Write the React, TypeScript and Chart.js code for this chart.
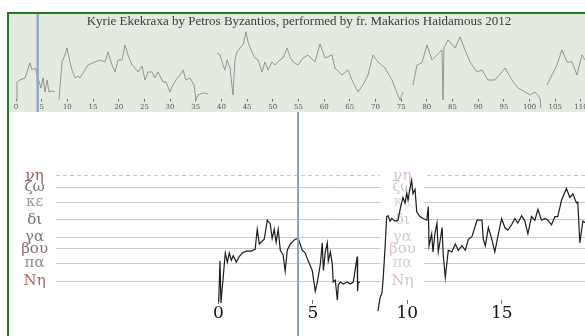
import React, { useEffect, useRef } from 'react';
import { Chart, registerables } from 'chart.js';

Chart.register(...registerables);

const TITLE = 'Kyrie Ekekraxa by Petros Byzantios, performed by fr. Makarios Haidamous 2012';

// current playback time (seconds)
const currentTime = 4.22;

// note names and their pitch in moria above Νη
const noteNames = ['Νη', 'πα', 'βου', 'γα', 'δι', 'κε', 'ζω', 'νη'];
const noteMoria = [0, 12, 22, 30, 42, 54, 64, 72];
const noteColors = ['#a86464', '#8e8e8e', '#8a6e76', '#7e7e7e', '#6e6e6e', '#9c9c9c', '#767676', '#a65a58'];
const noteFadedColors = ['#e2bcbc', '#d4d4d4', '#d8c4ca', '#cfcfcf', '#c8c8c8', '#dadada', '#cacaca', '#e4bcbc'];

// second, faded note-label column (seconds on the detail axis)
const labelSetTime = 9.74;
const labelGapStart = 8.58;
const labelGapEnd = 10.88;

const overviewTicks = [0, 5, 10, 15, 20, 25, 30, 35, 40, 45, 50, 55, 60, 65, 70, 75, 80, 85, 90, 95, 100, 105, 110];
const detailTicks = [0, 5, 10, 15, 20];

// whole-performance overview (seconds, moria)
const overviewTimes = [
  0, 0.19, 0.78, 1.75, 2.14, 2.73, 3.12, 3.7, 4.28, 4.87, 5.26, 5.65, 6.04, 6.43, 7.0, 7.6, 8.0,
  8.37, 8.96, 9.54, 9.93, 10.51, 10.9, 11.49, 12.07, 12.46, 13.43, 14.02, 15.38, 16.36, 17.33, 17.91,
  18.69, 19.28, 19.86, 20.64, 21.22, 21.81, 22.59, 23.17, 23.75, 24.53, 25.12, 25.7, 26.48, 27.06,
  27.65, 28.62, 29.21, 29.98, 30.57, 31.15, 31.93, 32.52, 33.1, 33.88, 34.66, 35.05, 35.44, 36.41,
  37.38, 38.2, 39.14, 39.72, 40.3, 40.69, 41.08, 41.67, 42.25, 42.64, 43.03, 43.61, 44.2, 44.78,
  45.17, 45.95, 46.53, 47.12, 47.9, 48.48, 49.07, 49.84, 50.43, 51.4, 51.99, 52.77, 53.35, 53.93,
  54.91, 55.88, 56.85, 58.22, 59.19, 60.16, 61.53, 62.11, 63.47, 64.64, 65.42, 66.59, 67.56, 68.54,
  69.51, 70.48, 71.85, 73.21, 73.79, 74.77, 75.35, 76.3, 77.3, 78.08, 79.05, 80.02, 81.0, 81.97,
  82.94, 83.14, 83.33, 84.11, 85.48, 86.45, 87.42, 88.4, 89.76, 90.73, 91.9, 93.26, 94.63, 95.21,
  96.57, 97.74, 99.1, 100.08, 101.05, 102.02, 102.22, 102.8, 103.39, 104.36, 105.33, 106.31, 107.28,
  108.26, 109.23, 110.2, 110.79,
];
const overviewPitch = [
  -10.6, 15.1, 18, 20.9, 29.4, 42.3, 32.3, 35.1, 20.9, 6.6, 20.9, 0.9, 18, 0.9, 2.3, 0.9, null,
  -10.6, 43.7, 53.7, 63.7, 43.7, 32.3, 20.9, 23.7, 20.9, 32.3, 39.4, 43.7, 46.6, 43.7, 58,
  39.4, 29.4, 46.6, 46.6, 68, 53.7, 39.4, 35.1, 29.4, 38, 18, 29.4, 29.4, 20.9,
  29.4, 15.1, 15.1, 0.9, 10.9, 18, 25.1, 32.3, 18, 20.9, 10.9, -10.6, -3.4, -0.6,
  -2, null, 56.6, 53.7, 39.4, 32.3, 46.6, 35.1, -3.4, 46.6, 58, 63.7, 68, 86.6,
  72.3, 58, 49.4, 46.6, 29.4, 43.7, 32.3, 43.7, 39.4, 46.6, 49.4, 63.7, 50.9, 43.7,
  39.4, 49.4, 53.7, 43.7, 69.4, 49.4, 53.7, 35.1, 25.1, 32.3, 18, 0.9, 10.9, 25.1,
  53.7, 43.7, 35.1, 18, 6.6, -10.6, 0.9, null, 10.9, 39.4, 42.3, 68, 46.6, 53.7,
  60.9, -10.6, 63.7, 75.1, 63.7, 79.4, 60.9, 43.7, 29.4, 32.3, 18, 18, 29.4, 35.1,
  18, 6.6, 0.9, -3.4, 0.9, -7.7, -22, null, 10.9, 25.1, 39.4, 60.9, 43.7,
  43.7, 25.1, 53.7, 46.6,
];

// zoomed pitch trace around the current time (seconds, moria)
const detailTimes = [
  0.02, 0.09, 0.14, 0.37, 0.48, 0.58, 0.69, 0.79, 0.95, 1.11, 1.27, 1.48, 1.74, 1.95, 2.06, 2.17,
  2.27, 2.43, 2.59, 2.75, 2.85, 2.96, 3.06, 3.17, 3.28, 3.43, 3.54, 3.65, 3.81, 3.96, 4.07, 4.23,
  4.44, 4.6, 4.76, 4.97, 5.13, 5.24, 5.4, 5.5, 5.56, 5.66, 5.77, 5.82, 5.93, 6.03, 6.08, 6.19,
  6.3, 6.35, 6.46, 6.61, 6.82, 6.98, 7.14, 7.35, 7.37, 7.4, 7.5, 7.9,
  8.45, 8.56, 8.66, 8.72, 8.82, 8.91, 8.98, 9.09, 9.18, 9.35, 9.51, 9.62, 9.71, 9.77, 9.88, 9.97,
  10.04, 10.14, 10.23, 10.3, 10.41, 10.5, 10.67, 10.83, 11.03, 11.11, 11.15, 11.29, 11.36, 11.46,
  11.57, 11.64, 11.75, 11.84, 11.9, 12.01, 12.17, 12.36, 12.54, 12.7, 12.89, 13.07, 13.23, 13.42,
  13.69, 13.95, 14.02, 14.13, 14.29, 14.46, 14.63, 14.79, 14.99, 15.16, 15.32, 15.52, 15.69, 15.85,
  16.05, 16.22, 16.38, 16.57, 16.75, 16.91, 17.1, 17.28, 17.44, 17.63, 17.81, 17.96, 18.16, 18.42,
  18.6, 18.76, 18.95, 19.02, 19.13, 19.29, 19.44,
];
const detailPitch = [
  -14.3, 13.7, -14.9, 19.2, 13.0, 19.2, 14.3, 17.4, 13.0, 16.8, 19.2, 20.5, 20.5, 21.7, 35.4, 25.4,
  26.7, 28.6, 41.6, 39.1, 29.2, 35.4, 26.7, 35.4, 21.1, 18.0, 6.8, 21.1, 25.4, 27.3, 28.6, 29.2,
  21.1, 19.2, 13.7, 7.4, -6.8, -0.6, 11.8, 26.1, 7.4, 19.9, 26.1, 13.7, 19.9, 11.8, -0.6, 0.6,
  -13.0, -2.5, -0.6, -1.9, -0.6, -1.9, -0.6, 16.8, -6.8, -0.6, -0.6, null,
  -20.5, -11.2, -8.1, 1.2, 22.3, 44.1, 44.7, 41.0, 42.8, 41.0, 41.6, 49.0, 54.0, 57.1, 53.4, 60.2,
  55.2, 63.3, 68.9, 59.6, 62.7, 47.2, 44.1, 42.8, 41.6, 50.9, 24.2, 32.3, 19.9, 32.3,
  39.7, 19.9, 28.6, 36.6, 18.0, 2.5, 21.1, 19.9, 25.4, 21.1, 24.2, 21.1, 28.6, 30.4,
  41.6, 41.6, 28.6, 24.2, 36.6, 29.2, 19.9, 30.4, 42.8, 36.6, 34.8, 38.5, 42.8, 39.7,
  44.7, 41.0, 32.3, 44.1, 41.6, 49.0, 41.6, 42.8, 41.6, 38.5, 44.1, 44.1, 55.2, 63.3,
  57.1, 59.6, 53.4, 54.0, 26.1, 41.0, 39.7,
];

const serif = '"Liberation Serif", "Times New Roman", serif';
const dejavuSerif = '"DejaVu Serif", serif';

function makePlayhead(id: string, color: string, width: number) {
  return {
    id,
    afterDatasetsDraw(chart: any) {
      const { ctx, scales } = chart;
      const px = scales.x.getPixelForValue(currentTime);
      ctx.save();
      ctx.strokeStyle = color;
      ctx.lineWidth = width;
      ctx.beginPath();
      ctx.moveTo(px, 0);
      ctx.lineTo(px, chart.height);
      ctx.stroke();
      ctx.restore();
    },
  };
}

const fadedNotesPlugin = {
  id: 'fadedNotes',
  beforeDatasetsDraw(chart: any) {
    const { ctx, scales } = chart;
    const x = scales.x;
    const y = scales.y;
    const left = x.getPixelForValue(labelGapStart);
    const right = x.getPixelForValue(labelGapEnd);
    const cx = x.getPixelForValue(labelSetTime);
    ctx.save();
    ctx.font = '15px ' + dejavuSerif;
    ctx.textAlign = 'center';
    ctx.textBaseline = 'middle';
    noteMoria.forEach((m, i) => {
      const py = y.getPixelForValue(m);
      ctx.fillStyle = '#ffffff';
      ctx.fillRect(left, py - 2, right - left, 4);
      ctx.fillStyle = noteFadedColors[i];
      ctx.fillText(noteNames[i], cx, py);
    });
    ctx.restore();
  },
};

export default function App() {
  const topRef = useRef<HTMLCanvasElement | null>(null);
  const botRef = useRef<HTMLCanvasElement | null>(null);

  useEffect(() => {
    const top = new Chart(topRef.current as HTMLCanvasElement, {
      type: 'line',
      data: {
        datasets: [
          {
            data: overviewTimes.map((t, i) => ({ x: t, y: overviewPitch[i] })) as any,
            borderColor: '#8a8a8a',
            borderWidth: 0.9,
            pointRadius: 0,
            tension: 0,
            spanGaps: false,
            clip: false as any,
          },
        ],
      },
      options: {
        responsive: false,
        animation: false,
        devicePixelRatio: 1,
        layout: { padding: 0 },
        plugins: {
          legend: { display: false },
          tooltip: { enabled: false },
          title: {
            display: true,
            text: TITLE,
            color: '#3a3a3a',
            font: { family: serif, size: 13, weight: 'normal', lineHeight: 1.1 },
            padding: { top: 0, bottom: 2 },
          },
        },
        scales: {
          x: {
            type: 'linear',
            min: -1.363,
            max: 111.57,
            afterBuildTicks: (s: any) => {
              s.ticks = overviewTicks.map((v) => ({ value: v }));
            },
            afterFit: (s: any) => {
              s.height = 13.5;
            },
            grid: { drawOnChartArea: false, drawTicks: true, tickLength: 3, tickColor: '#6a6a6a' },
            border: { display: false },
            ticks: {
              autoSkip: false,
              maxRotation: 0,
              padding: 1,
              color: '#555',
              font: { family: dejavuSerif, size: 7 },
            },
          },
          y: { type: 'linear', display: false, min: -8.43, max: 88.86 },
        },
      },
      plugins: [makePlayhead('topPlayhead', '#91a8c8', 2.5)],
    });

    const nameFor = (v: number) => {
      const i = noteMoria.indexOf(v);
      return i >= 0 ? noteNames[i] : '';
    };

    const bot = new Chart(botRef.current as HTMLCanvasElement, {
      type: 'line',
      data: {
        datasets: [
          {
            data: detailTimes.map((t, i) => ({ x: t, y: detailPitch[i] })) as any,
            borderColor: '#1c1c1c',
            borderWidth: 1.2,
            pointRadius: 0,
            tension: 0,
            spanGaps: false,
            clip: false as any,
          },
        ],
      },
      options: {
        responsive: false,
        animation: false,
        devicePixelRatio: 1,
        layout: { padding: 0 },
        plugins: { legend: { display: false }, tooltip: { enabled: false } },
        scales: {
          x: {
            type: 'linear',
            min: -8.587,
            max: 20.672,
            afterBuildTicks: (s: any) => {
              s.ticks = detailTicks.map((v) => ({ value: v }));
            },
            afterFit: (s: any) => {
              s.height = 36;
            },
            grid: { drawOnChartArea: false, drawTicks: true, tickLength: 4, tickColor: '#707070' },
            border: { display: false },
            ticks: {
              autoSkip: false,
              maxRotation: 0,
              padding: 0,
              color: '#111',
              font: { family: dejavuSerif, size: 17, lineHeight: 1.1 },
            },
          },
          y: {
            type: 'linear',
            min: -12.85,
            max: 103.85,
            afterBuildTicks: (s: any) => {
              s.ticks = noteMoria.map((v) => ({ value: v }));
            },
            afterFit: (s: any) => {
              s.width = 47;
            },
            grid: {
              drawTicks: false,
              lineWidth: 1,
              color: (c: any) => (c.tick && c.tick.value === 0 ? '#dcc3c3' : '#cbcbcb'),
            },
            border: {
              display: false,
              dash: (c: any) => (c.tick && c.tick.value === 72 ? [4, 3] : []),
            },
            ticks: {
              autoSkip: false,
              padding: 8,
              crossAlign: 'center',
              color: (c: any) => {
                const i = c.tick ? noteMoria.indexOf(c.tick.value) : -1;
                return i >= 0 ? noteColors[i] : '#777';
              },
              font: { family: dejavuSerif, size: 15 },
              callback: (v: any) => nameFor(Number(v)),
            },
          },
        },
      },
      plugins: [fadedNotesPlugin, makePlayhead('botPlayhead', '#8c9fb8', 2)],
    });

    return () => {
      top.destroy();
      bot.destroy();
    };
  }, []);

  return (
    <div
      style={{
        position: 'fixed',
        left: 0,
        top: 0,
        width: 585,
        height: 336,
        overflow: 'hidden',
        background: '#ffffff',
      }}
    >
      <div
        style={{
          position: 'absolute',
          left: 7,
          top: 12,
          width: 620,
          height: 400,
          borderLeft: '2px solid #1f7d1f',
          borderTop: '2px solid #1f7d1f',
        }}
      />
      <div
        style={{
          position: 'absolute',
          left: 9,
          top: 14,
          width: 580,
          height: 98,
          background: '#e3ebe1',
        }}
      >
        <canvas ref={topRef} width={580} height={98} style={{ display: 'block', width: 580, height: 98 }} />
      </div>
      <div style={{ position: 'absolute', left: 9, top: 112, width: 600, height: 224 }}>
        <canvas ref={botRef} width={600} height={224} style={{ display: 'block', width: 600, height: 224 }} />
      </div>
    </div>
  );
}
